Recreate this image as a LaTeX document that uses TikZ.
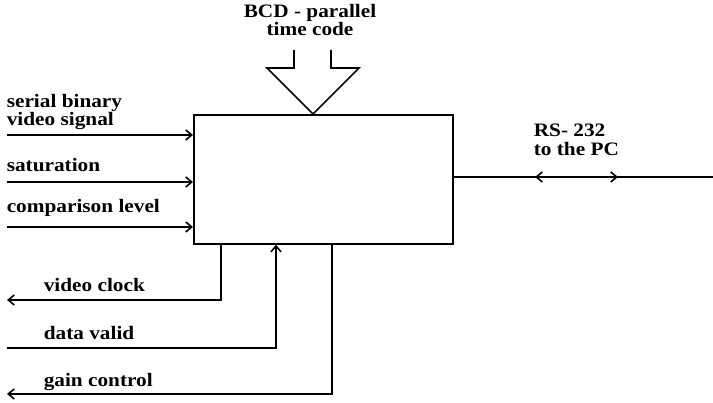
\documentclass[tikz,border=0pt]{standalone}
\usepackage{fontspec}
\setmainfont{Liberation Serif}[FakeStretch=1.12]
\usetikzlibrary{arrows.meta,positioning,calc}

\begin{document}
\begin{tikzpicture}[x=1pt,y=-1pt,line width=1.6pt,
  >={Straight Barb[length=6pt,width=10pt]},
  lbl/.style={anchor=base west,inner sep=0pt,align=left,font=\fontsize{19}{17}\selectfont\bfseries},
  ttl/.style={lbl,anchor=base,align=center}]
\useasboundingbox[fill=white] (0,0) rectangle (713,403);
% the unit
\node[draw,anchor=north west,inner sep=0pt,minimum width=259pt,minimum height=129pt] (unit) at (193,114) {};
% time code input
\coordinate (tip) at (313,114);
\draw (294,50) -- (294,68) -- (267,68) -- (tip) -- (359,68) -- (331,68) -- (331,50);
\node[ttl] (bcd) at (310,36) {BCD - parallel\\time code};
% inputs
\coordinate (in1) at (7,135);
\coordinate (in2) at (7,182);
\coordinate (in3) at (7,227);
\draw[->] (in1) -- (in1 -| unit.west);
\draw[->] (in2) -- (in2 -| unit.west);
\draw[->] (in3) -- (in3 -| unit.west);
\node[lbl] (sbv) at (6,126) {serial binary\\video signal};
\node[lbl] (sat) at (6,172) {saturation};
\node[lbl] (cmp) at (6,213) {comparison level};
% lines below the unit
\coordinate (clk) at (221,300);
\coordinate (dv) at (276,348);
\coordinate (gc) at (332,394);
\draw[->] (clk |- unit.south) -- (clk) -- (7,300);
\draw[->] (7,348) -- (dv) -- (dv |- unit.south);
\draw[->] (gc |- unit.south) -- (gc) -- (7,394);
\node[lbl] (vc) at (43,292) {video clock};
\node[lbl] (dvl) at (43,340) {data valid};
\node[lbl] (gcl) at (43,387) {gain control};
% serial link
\coordinate (pc) at (713,177);
\coordinate (la) at (535,177);
\coordinate (ra) at (618,177);
\draw (unit.east |- pc) -- (pc);
\draw[->] (ra) -- (la);
\draw[->] (la) -- (ra);
\node[lbl,font=\fontsize{19}{19}\selectfont\bfseries] (rs) at (533,156) {RS- 232\\to the PC};
\end{tikzpicture}
\end{document}
